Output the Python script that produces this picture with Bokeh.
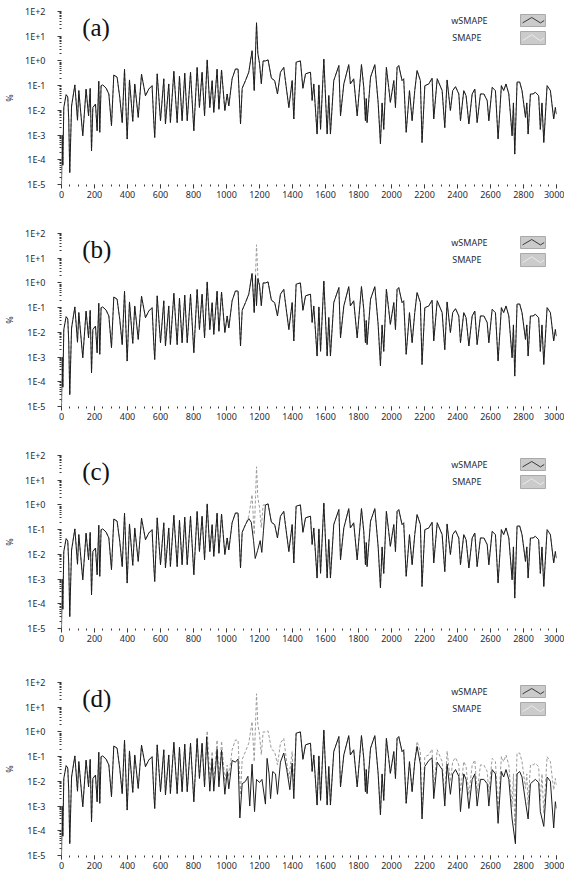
import math
from bokeh.plotting import figure
from bokeh.layouts import column
from bokeh.models import Range1d, FixedTicker, CustomJSTickFormatter, Label
from bokeh.embed import file_html
from bokeh.resources import INLINE

# ---------------- data ----------------
x_base = [0, 4, 8, 14, 28, 38, 44, 50, 61, 81,
          97, 105, 129, 149, 164, 174, 182, 190, 206, 216,
          226, 232, 240, 250, 270, 287, 303, 317, 337, 353,
          368, 382, 398, 412, 432, 444, 465, 485, 509, 529,
          549, 559, 565, 580, 600, 620, 630, 650, 660, 681,
          701, 715, 731, 747, 762, 782, 802, 822, 836, 852,
          867, 883, 899, 913, 923, 943, 954, 970, 990, 1004,
          1014, 1034, 1054, 1070, 1085, 1095, 1115, 1135, 1155, 1168,
          1176, 1182, 1190, 1200, 1211, 1222, 1236, 1252, 1272, 1292,
          1309, 1327, 1347, 1357, 1378, 1398, 1408, 1422, 1448, 1463,
          1479, 1509, 1519, 1529, 1549, 1560, 1570, 1590, 1610, 1620,
          1630, 1650, 1681, 1691, 1711, 1741, 1751, 1771, 1792, 1818,
          1832, 1842, 1847, 1852, 1873, 1899, 1919, 1933, 1943, 1953,
          1969, 1983, 1993, 2014, 2024, 2034, 2044, 2064, 2074, 2089,
          2109, 2125, 2141, 2155, 2175, 2185, 2202, 2226, 2246, 2256,
          2277, 2307, 2323, 2337, 2357, 2371, 2388, 2408, 2418, 2438,
          2452, 2469, 2489, 2505, 2519, 2539, 2560, 2580, 2590, 2610,
          2630, 2646, 2666, 2680, 2694, 2711, 2731, 2739, 2747, 2761,
          2777, 2791, 2812, 2820, 2828, 2842, 2858, 2872, 2892, 2902,
          2912, 2923, 2943, 2963, 2983, 2993, 3000]
y_base = [1.0e-5, 1.0e-3, 6e-5, 1.3e-2, 4.3e-2, 3.5e-2, 4e-3, 3e-5, 1.5e-2, 0.107,
          4e-3, 0.063, 9.4e-4, 0.073, 6e-3, 0.078, 2.3e-4, 1.3e-2, 1.8e-2, 1.5e-3,
          0.15, 1.3e-3, 0.10, 0.107, 0.08, 0.046, 2.4e-3, 0.27, 0.22, 0.034,
          3.2e-3, 0.46, 6.9e-4, 0.17, 3.6e-3, 0.117, 5.2e-3, 0.29, 0.039, 0.073,
          0.10, 3.8e-3, 8e-4, 0.30, 3.8e-3, 0.19, 2.8e-3, 0.117, 3.2e-3, 0.38,
          3.2e-3, 0.24, 3.8e-3, 0.32, 3.8e-3, 0.35, 1.5e-3, 0.55, 1.3e-2, 0.35,
          6e-3, 1.1, 1.3e-2, 0.16, 8.3e-3, 0.47, 1.1e-2, 0.43, 9.8e-3, 0.046,
          1.5e-2, 0.19, 0.47, 0.47, 2.8e-3, 0.078, 0.16, 0.35, 2.6, 0.063,
          2.2, 35.0, 2.0, 0.8, 0.12, 1.0, 1.0, 1.1, 0.2, 0.16,
          0.046, 0.35, 0.55, 0.16, 0.013, 0.16, 4.5e-3, 0.89, 1.0, 0.078,
          0.30, 0.35, 0.025, 0.117, 1.1e-3, 0.107, 1.7e-3, 1.2, 1.1e-3, 0.04,
          1.1e-3, 0.16, 0.65, 6e-3, 0.117, 0.71, 0.117, 0.19, 6e-3, 0.71,
          0.085, 3.8e-3, 0.03, 3.2e-3, 0.22, 0.71, 0.021, 4.4e-4, 0.02, 1.7e-3,
          0.55, 0.085, 0.021, 0.16, 0.013, 0.55, 0.65, 0.16, 0.19, 1.3e-3,
          0.063, 3.8e-3, 0.063, 0.41, 0.16, 5e-4, 0.10, 0.117, 0.20, 4.5e-3,
          0.19, 0.063, 2e-3, 0.17, 9.8e-3, 0.063, 0.091, 0.046, 3.8e-3, 0.063,
          0.039, 2.8e-3, 0.046, 0.073, 3.2e-3, 0.046, 0.046, 0.025, 3.8e-3, 0.085,
          0.063, 6.9e-4, 0.10, 0.063, 0.117, 0.046, 9.4e-4, 0.02, 1.7e-4, 0.14,
          0.14, 0.063, 5.2e-3, 0.02, 1.1e-3, 0.046, 0.046, 0.054, 0.039, 1.7e-3,
          0.02, 5e-4, 0.10, 0.063, 4.5e-3, 1.3e-2, 7e-3]

# wSMAPE pieces that differ from the common curve
seg_b_x = [1155, 1168, 1176, 1182, 1190]
seg_b_y = [2.4, 0.063, 2.0, 0.12, 1.5]

seg_c_x = [1135, 1150, 1164, 1174, 1188, 1204, 1214, 1224]
seg_c_y = [0.28, 0.2, 0.036, 0.0068, 0.014, 0.036, 0.012, 0.09]

seg_d1_x = [880, 899, 913, 923, 943, 954, 970, 990, 1004, 1014,
            1034, 1054, 1070, 1081, 1095, 1115, 1130, 1141, 1155, 1170,
            1182, 1200, 1215, 1236, 1246, 1258, 1267, 1280, 1297, 1309,
            1327, 1347, 1365, 1384, 1398, 1408]
seg_d1_y = [0.64, 4e-3, 0.08, 4e-3, 0.2, 6e-3, 0.18, 3e-3, 0.025, 5e-3,
            0.07, 0.06, 0.08, 3.3e-4, 8e-3, 0.01, 0.016, 1e-3, 0.05, 6e-4,
            0.012, 0.009, 0.012, 1.2e-3, 0.085, 0.02, 2e-3, 0.025, 0.02, 3e-3,
            0.06, 0.14, 0.03, 4.6e-3, 0.055, 2e-3]

seg_d2_x = [2155, 2175, 2185, 2202, 2226, 2246, 2256, 2277, 2307, 2323,
            2337, 2357, 2371, 2388, 2408, 2418, 2438, 2452, 2469, 2489,
            2505, 2519, 2539, 2560, 2580, 2590, 2610, 2630, 2646, 2666,
            2680, 2694, 2711, 2731, 2751, 2761, 2777, 2791, 2812, 2828,
            2842, 2858, 2872, 2892, 2902, 2923, 2943, 2963, 2983, 2993, 3000]
seg_d2_y = [0.26, 0.05, 3e-4, 0.04, 0.07, 0.09, 2e-3, 0.06, 0.03, 1e-3,
            0.05, 3e-3, 0.02, 0.03, 0.016, 6e-4, 0.02, 0.012, 8e-4, 0.012,
            0.02, 1e-3, 0.012, 0.012, 0.008, 1e-3, 0.03, 0.02, 2e-4, 0.025,
            0.015, 0.03, 0.012, 3e-4, 3e-5, 0.02, 0.025, 0.015, 1.5e-3, 3e-4,
            0.008, 0.01, 0.012, 0.009, 6e-4, 1.5e-4, 0.015, 0.01, 1.3e-4, 1.5e-3, 8e-4]

panel_labels = ["(a)", "(b)", "(c)", "(d)"]
series_names = ["wSMAPE", "SMAPE"]
x_tick_values = list(range(0, 3001, 200))
y_tick_values = [1e-5, 1e-4, 1e-3, 1e-2, 1e-1, 1e0, 1e1, 1e2]
y_tick_labels = ["1E-5", "1E-4", "1E-3", "1E-2", "1E-1", "1E+0", "1E+1", "1E+2"]
y_axis_title = "%"

assert len(x_base) == len(y_base)
for a_, b_ in [(seg_b_x, seg_b_y), (seg_c_x, seg_c_y), (seg_d1_x, seg_d1_y), (seg_d2_x, seg_d2_y)]:
    assert len(a_) == len(b_)


def splice(segs):
    xs, ys = list(x_base), list(y_base)
    for sx, sy in segs:
        lo, hi = sx[0], sx[-1]
        keep = [(a, b) for a, b in zip(xs, ys) if a < lo or a > hi]
        keep += list(zip(sx, sy))
        keep.sort(key=lambda t: t[0])
        xs = [k[0] for k in keep]
        ys = [k[1] for k in keep]
    return xs, ys


wsmape = [
    (x_base, y_base),
    splice([(seg_b_x, seg_b_y)]),
    splice([(seg_c_x, seg_c_y)]),
    splice([(seg_d1_x, seg_d1_y), (seg_d2_x, seg_d2_y)]),
]
smape = [(x_base, y_base)] * 4

# figure heights: 222 + 222 + 227 + 203 = 874 (the page has no body margin)
bottoms = [38, 38, 43, 19]

TXT = "#2a2a33"
TICK = "#3a3a3a"
FONT = "Noto Sans"

y_minor = [k * 10.0 ** e for e in range(-5, 2) for k in range(2, 10)]
x_minor = list(range(0, 3001, 50))

fmt = CustomJSTickFormatter(args=dict(vals=y_tick_values, labs=y_tick_labels), code="""
for (let k = 0; k < vals.length; k++) {
  if (Math.abs(Math.log10(vals[k]) - Math.log10(tick)) < 1e-6) { return labs[k]; }
}
return '';
""")


def box_pt(fx, fy, x0, x1, yb, yt):
    lb, lt = math.log10(yb), math.log10(yt)
    return x0 + fx * (x1 - x0), 10 ** (lb + fy * (lt - lb))


figs = []
for i in range(4):
    p = figure(frame_width=495, frame_height=173, x_range=Range1d(0, 3000),
               y_range=Range1d(1e-5, 1e2), y_axis_type="log",
               output_backend="svg", toolbar_location=None,
               min_border_left=61, min_border_right=8, min_border_top=11,
               min_border_bottom=bottoms[i])
    p.outline_line_color = None
    p.grid.visible = False
    p.background_fill_color = "white"
    p.border_fill_color = "white"

    # axes
    p.xaxis.ticker = FixedTicker(ticks=x_tick_values, minor_ticks=x_minor)
    p.yaxis.ticker = FixedTicker(ticks=y_tick_values, minor_ticks=y_minor)
    p.yaxis.formatter = fmt
    for ax in (p.xaxis, p.yaxis):
        ax.axis_line_color = None
        ax.major_tick_line_color = TICK
        ax.minor_tick_line_color = TICK
        ax.major_tick_in = 0
        ax.minor_tick_in = 0
        ax.major_tick_out = 4
        ax.minor_tick_out = 2
        ax.major_label_text_font = FONT
        ax.major_label_text_font_size = "9px"
        ax.major_label_text_color = TXT
    p.xaxis.major_label_standoff = 2
    p.yaxis.major_label_standoff = 12
    p.yaxis.axis_label = y_axis_title
    p.yaxis.axis_label_standoff = 6
    p.yaxis.axis_label_text_font = FONT
    p.yaxis.axis_label_text_font_size = "9px"
    p.yaxis.axis_label_text_font_style = "normal"
    p.yaxis.axis_label_text_color = TXT

    # data
    sx, sy = smape[i]
    p.line(sx, sy, line_color="#9a9a9a", line_width=1, line_dash="3 2")
    wx, wy = wsmape[i]
    p.line(wx, wy, line_color="#1c1c1c", line_width=1)

    # panel label
    p.add_layout(Label(x=125, y=22, text=panel_labels[i], text_font="Liberation Serif",
                       text_font_size="25px", text_baseline="middle", text_color="#111111"))

    # legend (text on the left, grey symbol boxes on the right)
    p.add_layout(Label(x=2362, y=43, text=series_names[0], text_font=FONT,
                       text_font_size="9px", text_baseline="middle", text_color=TXT))
    p.add_layout(Label(x=2368, y=9.0, text=series_names[1], text_font=FONT,
                       text_font_size="9px", text_baseline="middle", text_color=TXT))
    bx0, bx1 = 2782, 2933
    boxes = [(24.7, 75.6, "#3a3a3a"), (4.6, 15.5, "#ebebeb")]
    for yb, yt, lc in boxes:
        p.quad(left=[bx0], right=[bx1], bottom=[yb], top=[yt],
               fill_color="#cbcbcb", line_color="#a9a9a9", line_width=1)
        pts = [box_pt(fx, fy, bx0, bx1, yb, yt) for fx, fy in
               [(0.08, 0.3), (0.45, 0.75), (0.8, 0.3), (0.95, 0.5)]]
        p.line([q[0] for q in pts], [q[1] for q in pts], line_color=lc, line_width=1)

    figs.append(p)

layout = column(*figs, spacing=0)
open("out.html", "w").write(file_html(layout, INLINE))
